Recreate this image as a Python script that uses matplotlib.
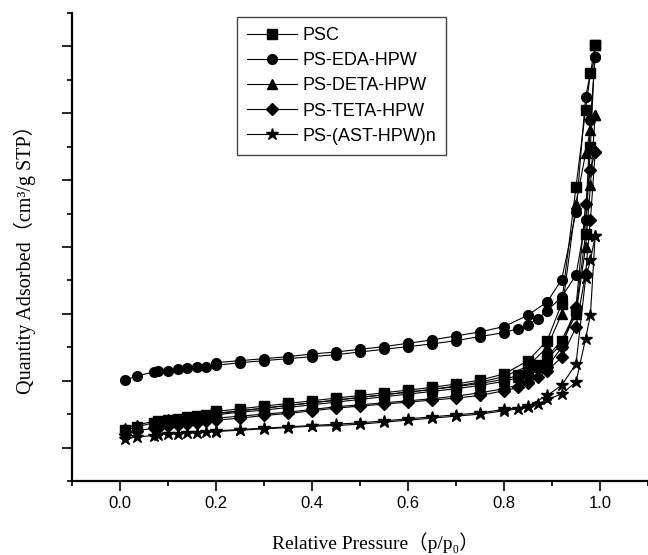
import matplotlib
matplotlib.use("Agg")
import matplotlib.pyplot as plt
from matplotlib.ticker import MultipleLocator, FormatStrFormatter

# relative pressure of the adsorption and desorption points
p_ads = [0.01, 0.035, 0.07, 0.08, 0.10, 0.12, 0.14, 0.16, 0.18, 0.20, 0.25, 0.30,
         0.35, 0.40, 0.45, 0.50, 0.55, 0.60, 0.65, 0.70, 0.75, 0.80, 0.83, 0.85,
         0.87, 0.89, 0.92, 0.95, 0.97, 0.98, 0.99]
p_des = [0.99, 0.98, 0.97, 0.95, 0.92, 0.89, 0.85, 0.80, 0.75, 0.70, 0.65, 0.60,
         0.55, 0.50, 0.45, 0.40, 0.35, 0.30, 0.25, 0.20]

labels = ['PSC', 'PS-EDA-HPW', 'PS-DETA-HPW', 'PS-TETA-HPW', 'PS-(AST-HPW)n']
markers = ['s', 'o', '^', 'D', '*']

# quantity adsorbed (arbitrary units)
psc_ads = [26, 31, 37, 39, 41, 43, 45, 47, 49, 51, 55, 59, 63, 67, 71, 75, 79, 83,
           87, 91, 96, 102, 108, 115, 124, 136, 160, 205, 320, 450, 602]
psc_des = [602, 560, 505, 390, 215, 160, 130, 110, 101, 95, 90, 86, 82, 78, 74, 70,
           66, 62, 58, 54]
eda_ads = [101, 107, 113, 114, 115, 117, 119, 120, 121, 123, 127, 130, 133, 136, 139,
           143, 147, 151, 155, 160, 166, 172, 178, 184, 192, 205, 225, 258, 340, 490, 584]
eda_des = [584, 560, 524, 352, 251, 218, 198, 181, 173, 167, 161, 156, 151, 147, 143,
           140, 136, 133, 130, 127]
deta_ads = [30, 34, 39, 40, 42, 43, 45, 46, 48, 49, 53, 56, 60, 64, 68, 72, 76, 80,
            84, 88, 93, 99, 105, 112, 121, 133, 155, 200, 300, 392, 498]
deta_des = [498, 475, 440, 365, 200, 150, 122, 106, 98, 92, 87, 83, 79, 75, 71, 67,
            63, 59, 55, 51]
teta_ads = [20, 25, 29, 30, 32, 34, 36, 37, 39, 41, 44, 48, 51, 55, 59, 62, 65, 68,
            71, 74, 78, 85, 90, 96, 105, 115, 135, 180, 260, 340, 442]
teta_des = [442, 415, 365, 210, 150, 120, 98, 88, 82, 77, 73, 70, 67, 64, 61, 57, 53,
            50, 47, 44]
ast_ads = [13, 16, 18, 19, 20, 21, 22, 22, 23, 24, 26, 28, 30, 32, 33, 35, 38, 41,
           44, 47, 50, 55, 58, 60, 65, 72, 80, 98, 163, 198, 317]
ast_des = [317, 280, 253, 125, 93, 78, 62, 57, 52, 49, 46, 43, 40, 37, 35, 33, 31,
           29, 27, 25]

series_ads = [psc_ads, eda_ads, deta_ads, teta_ads, ast_ads]
series_des = [psc_des, eda_des, deta_des, teta_des, ast_des]

serif = ['Liberation Serif', 'Noto Sans CJK SC', 'DejaVu Serif']

fig = plt.figure(figsize=(6.48, 5.55), dpi=100)
ax = fig.add_axes([72 / 648, 74 / 555, 576 / 648, 468 / 555])

for i in range(len(labels)):
    ms = 9 if markers[i] == '*' else 6.5 if markers[i] == 'D' else 7
    ax.plot(p_ads, series_ads[i], color='black', lw=0.8, marker=markers[i],
            ms=ms, label=labels[i])
    ax.plot(p_des, series_des[i], color='black', lw=0.8, marker=markers[i], ms=ms)

ax.set_xlim(-0.1, 1.1)
ax.set_ylim(-50, 650)
ax.xaxis.set_major_locator(MultipleLocator(0.2))
ax.xaxis.set_minor_locator(MultipleLocator(0.1))
ax.xaxis.set_major_formatter(FormatStrFormatter('%.1f'))
ax.yaxis.set_major_locator(MultipleLocator(100))
ax.yaxis.set_minor_locator(MultipleLocator(50))

for side in ['top', 'right']:
    ax.spines[side].set_visible(False)
for side in ['left', 'bottom']:
    ax.spines[side].set_linewidth(1.6)

ax.tick_params(which='major', direction='out', length=7, width=1.2, labelsize=12, pad=4)
ax.tick_params(which='minor', direction='out', length=3.6, width=1.2)
ax.tick_params(axis='y', labelleft=False)
for t in ax.get_xticklabels():
    t.set_family('Liberation Sans')

ax.set_xlabel('Relative Pressure（p/p₀）', family=serif, fontsize=14)
ax.set_ylabel('Quantity Adsorbed（cm³/g STP）', family=serif, fontsize=14.5)
ax.xaxis.set_label_coords(0.526, -0.11)
ax.yaxis.set_label_coords(-0.062, 0.483)

leg = ax.legend(loc='upper left', bbox_to_anchor=(0.286, 0.991), borderaxespad=0,
                fancybox=False, framealpha=1, edgecolor='#444444',
                prop={'family': 'Liberation Sans', 'size': 13},
                handlelength=2.8, handletextpad=0.3, labelspacing=0.45,
                borderpad=0.55, markerscale=1.0)
leg.get_frame().set_linewidth(1.0)

plt.savefig('out.png', dpi=100)
